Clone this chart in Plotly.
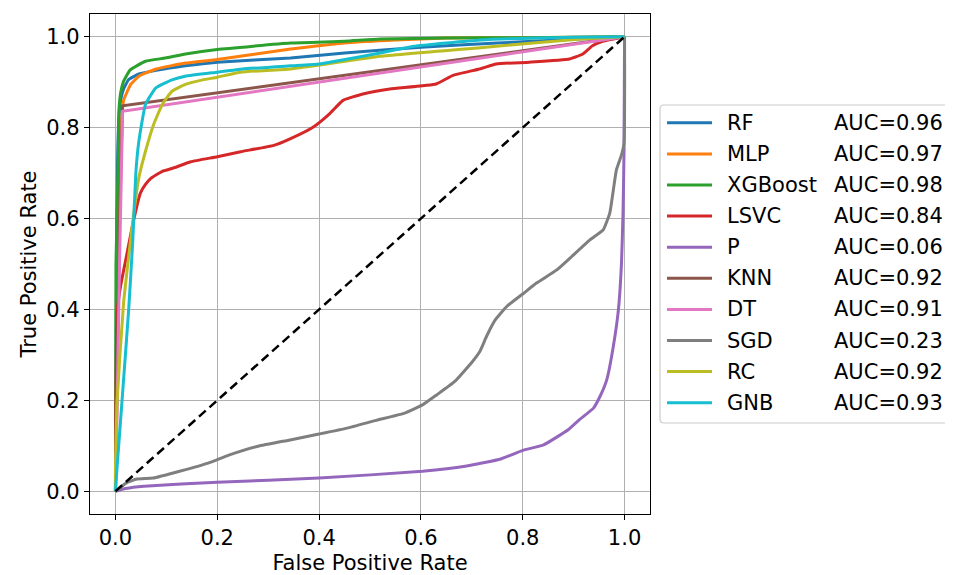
import plotly.graph_objects as go

# ---------------- data ----------------
models = ["RF", "MLP", "XGBoost", "LSVC", "P", "KNN", "DT", "SGD", "RC", "GNB"]
auc_values = [0.96, 0.97, 0.98, 0.84, 0.06, 0.92, 0.91, 0.23, 0.92, 0.93]
colors = ["#1f77b4", "#ff7f0e", "#2ca02c", "#d62728", "#9467bd",
          "#8c564b", "#e377c2", "#7f7f7f", "#bcbd22", "#17becf"]

rf_fpr = [0, 0.002, 0.004, 0.007, 0.011, 0.016, 0.026, 0.046, 0.08, 0.1375, 0.2, 0.344, 0.45, 0.6, 0.75, 0.91, 1.0]
rf_tpr = [0, 0.45, 0.72, 0.83, 0.865, 0.885, 0.906, 0.918, 0.926, 0.936, 0.944, 0.953, 0.964, 0.977, 0.986, 0.995, 1.0]

mlp_fpr = [0, 0.003, 0.006, 0.01, 0.013, 0.016, 0.03, 0.046, 0.08, 0.1375, 0.2, 0.344, 0.455, 0.55, 0.65, 0.8, 1.0]
mlp_tpr = [0, 0.4, 0.7, 0.785, 0.83, 0.86, 0.895, 0.913, 0.929, 0.942, 0.95, 0.973, 0.987, 0.993, 0.997, 0.998, 1.0]

xgb_fpr = [0, 0.001, 0.005, 0.007, 0.01, 0.016, 0.029, 0.059, 0.098, 0.1375, 0.2, 0.344, 0.45, 0.52, 0.65, 0.8, 1.0]
xgb_tpr = [0, 0.5, 0.7, 0.84, 0.875, 0.902, 0.927, 0.946, 0.953, 0.962, 0.972, 0.986, 0.99, 0.995, 0.997, 0.998, 1.0]

lsvc_fpr = [0, 0.001, 0.0033, 0.01, 0.023, 0.036, 0.049, 0.059, 0.069, 0.092, 0.111, 0.148, 0.2, 0.246, 0.311,
            0.344, 0.388, 0.421, 0.447, 0.486, 0.539, 0.63, 0.663, 0.715, 0.748, 0.813, 0.892, 0.918, 0.937, 0.957, 1.0]
lsvc_tpr = [0, 0.2, 0.393, 0.451, 0.525, 0.598, 0.656, 0.675, 0.688, 0.704, 0.71, 0.725, 0.736, 0.747, 0.761,
            0.776, 0.801, 0.831, 0.86, 0.874, 0.885, 0.896, 0.915, 0.929, 0.94, 0.944, 0.951, 0.962, 0.98, 0.99, 1.0]

p_fpr = [0, 0.02, 0.056, 0.2, 0.4, 0.603, 0.687, 0.757, 0.8, 0.841, 0.89, 0.912, 0.939, 0.952, 0.965,
         0.978, 0.988, 0.994, 0.997, 0.999, 1.0]
p_tpr = [0, 0.006, 0.011, 0.02, 0.029, 0.044, 0.055, 0.071, 0.09, 0.102, 0.136, 0.158, 0.183, 0.209, 0.245,
         0.319, 0.4, 0.502, 0.612, 0.751, 1.0]

knn_fpr = [0, 0.008, 0.014, 1.0]
knn_tpr = [0, 0.6, 0.848, 1.0]

dt_fpr = [0, 0.002, 0.008, 0.012, 0.014, 1.0]
dt_tpr = [0, 0.1, 0.5, 0.75, 0.836, 1.0]

sgd_fpr = [0, 0.021, 0.042, 0.074, 0.126, 0.182, 0.224, 0.28, 0.343, 0.4, 0.455, 0.512, 0.568, 0.603, 0.631,
           0.666, 0.701, 0.716, 0.729, 0.746, 0.769, 0.8, 0.827, 0.867, 0.893, 0.932, 0.958, 0.971, 0.978,
           0.984, 0.994, 0.999, 1.0]
sgd_tpr = [0, 0.018, 0.027, 0.029, 0.044, 0.062, 0.08, 0.099, 0.113, 0.126, 0.139, 0.156, 0.172, 0.19, 0.212,
           0.241, 0.285, 0.308, 0.341, 0.377, 0.407, 0.434, 0.458, 0.487, 0.513, 0.553, 0.575, 0.612, 0.663,
           0.707, 0.74, 0.766, 1.0]

rc_fpr = [0, 0.0, 0.003, 0.016, 0.036, 0.046, 0.059, 0.075, 0.092, 0.111, 0.1375, 0.167, 0.2, 0.246, 0.344,
          0.52, 0.717, 0.914, 1.0]
rc_tpr = [0, 0.05, 0.195, 0.415, 0.612, 0.69, 0.748, 0.807, 0.851, 0.88, 0.895, 0.904, 0.911, 0.922, 0.929,
          0.957, 0.976, 0.995, 1.0]

gnb_fpr = [0, 0.003, 0.013, 0.026, 0.034, 0.04, 0.046, 0.059, 0.079, 0.111, 0.137, 0.2, 0.25,
           0.344, 0.4, 0.52, 0.586, 0.717, 0.9, 1.0]
gnb_tpr = [0, 0.05, 0.2, 0.4, 0.55, 0.70, 0.77, 0.851, 0.887, 0.905, 0.913, 0.922, 0.929,
           0.936, 0.94, 0.964, 0.979, 0.993, 0.999, 1.0]

fpr_lists = [rf_fpr, mlp_fpr, xgb_fpr, lsvc_fpr, p_fpr, knn_fpr, dt_fpr, sgd_fpr, rc_fpr, gnb_fpr]
tpr_lists = [rf_tpr, mlp_tpr, xgb_tpr, lsvc_tpr, p_tpr, knn_tpr, dt_tpr, sgd_tpr, rc_tpr, gnb_tpr]
straight_models = ["KNN", "DT"]  # piecewise-linear curves

chance_x = [0, 1]
chance_y = [0, 1]

tick_values = [0.0, 0.2, 0.4, 0.6, 0.8, 1.0]
tick_labels = ["0.0", "0.2", "0.4", "0.6", "0.8", "1.0"]

# ---------------- figure ----------------
FONT = "DejaVu Sans"
FS = 21
OFF = 8  # default page body margin
W, H = 945, 567
L, R, T, B = 82, 303, 6, 61
PW, PH = W - L - R, H - T - B

def px_to_paper_x(px):  # screen pixel -> paper
    return (px - OFF - L) / PW

def py_to_paper_y(py):
    return (H - B - (py - OFF)) / PH

fig = go.Figure()
for name, fx, ty, c in zip(models, fpr_lists, tpr_lists, colors):
    if name in straight_models:
        line = dict(color=c, width=3, shape="linear")
    else:
        line = dict(color=c, width=3, shape="spline", smoothing=0.4)
    fig.add_trace(go.Scatter(x=fx, y=ty, mode="lines", name=name, line=line, showlegend=False))

fig.add_trace(go.Scatter(x=chance_x, y=chance_y, mode="lines", showlegend=False,
                         line=dict(color="black", width=2.5, dash="9px,5px")))

axis_common = dict(
    range=[-0.05, 1.05], tickvals=tick_values, ticktext=tick_labels,
    showgrid=True, gridcolor="#b0b0b0", gridwidth=1, zeroline=False,
    showline=True, mirror=True, linecolor="black", linewidth=1.3,
    ticks="outside", ticklen=5, tickwidth=1.2, tickcolor="black",
    tickfont=dict(family=FONT, size=FS, color="black"),
    automargin=False,
)

fig.update_layout(
    width=W, height=H,
    margin=dict(l=L, r=R, t=T, b=B, pad=0, autoexpand=False),
    paper_bgcolor="white", plot_bgcolor="white",
    font=dict(family=FONT, size=FS, color="black"),
    xaxis=dict(**axis_common, title=dict(text="False Positive Rate",
                                         font=dict(family=FONT, size=FS), standoff=8)),
    yaxis=dict(**axis_common, title=dict(text="True Positive Rate",
                                         font=dict(family=FONT, size=FS), standoff=3)),
    showlegend=False,
)

# ---------------- manual legend (outside, right; cut by the page edge) ----------------
bx0, bx1 = px_to_paper_x(660), px_to_paper_x(1000)
by0, by1 = py_to_paper_y(423), py_to_paper_y(105)
rx, ry = 4 / PW, 4 / PH
legend_path = (f"M {bx1},{by1} L {bx0 + rx},{by1} Q {bx0},{by1} {bx0},{by1 - ry} "
               f"L {bx0},{by0 + ry} Q {bx0},{by0} {bx0 + rx},{by0} L {bx1},{by0}")
fig.add_shape(type="path", xref="paper", yref="paper", path=legend_path,
              line=dict(color="#cccccc", width=1.2), layer="above")

row0, row_step = 122.8, 31.1
for i, (name, auc, c) in enumerate(zip(models, auc_values, colors)):
    yy = py_to_paper_y(row0 + i * row_step)
    fig.add_shape(type="line", xref="paper", yref="paper",
                  x0=px_to_paper_x(667), x1=px_to_paper_x(712), y0=yy, y1=yy,
                  line=dict(color=c, width=3), layer="above")
    fig.add_annotation(xref="paper", yref="paper", x=px_to_paper_x(725), y=yy,
                       text=name, showarrow=False, xanchor="left", yanchor="middle",
                       font=dict(family=FONT, size=FS, color="black"))
    fig.add_annotation(xref="paper", yref="paper", x=px_to_paper_x(832), y=yy,
                       text=f"AUC={auc:.2f}", showarrow=False, xanchor="left", yanchor="middle",
                       font=dict(family=FONT, size=FS, color="black"))

fig.write_html("out.html")
